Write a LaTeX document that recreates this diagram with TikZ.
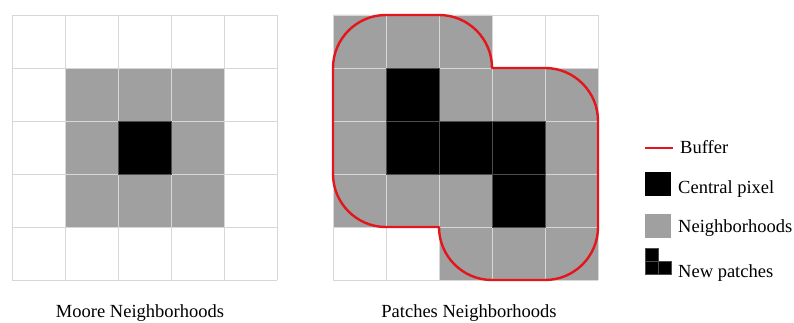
\documentclass[tikz,border=0pt]{standalone}
\usepackage{fontspec}
\setmainfont{Liberation Serif}
\usetikzlibrary{positioning}
\definecolor{nbgray}{RGB}{160,160,160}
\definecolor{gridgray}{RGB}{215,215,215}
\definecolor{buffred}{RGB}{228,22,28}

\begin{document}
\begin{tikzpicture}[x=1pt, y=1pt,
  cellgrid/.style={draw=gridgray, line width=0.8pt},
  pix/.style={fill=black, draw=black!70, line width=0.5pt},
  buffer/.style={draw=buffred, line width=2.4pt, line join=round},
  lbl/.style={font=\fontsize{18.5}{22}\selectfont, inner sep=0pt}]
  \useasboundingbox (0,0) rectangle (794,322);
  % Moore neighbourhood
  \begin{scope}[shift={(12,42)}, x=53pt, y=53pt]
    \fill[nbgray] (1,1) rectangle (4,4);
    \draw[cellgrid] (0,0) grid[step=1] (5,5);
    \filldraw[pix] (2,2) rectangle (3,3);
  \end{scope}
  % patch neighbourhood with buffer
  \begin{scope}[shift={(333,42)}, x=53pt, y=53pt]
    \fill[nbgray] (0,1) rectangle (5,4) (0,4) rectangle (3,5) (2,0) rectangle (5,1);
    \draw[cellgrid] (0,0) grid[step=1] (5,5);
    \foreach \c/\r in {1/3,1/2,2/2,3/2,3/1}
      \filldraw[pix] (\c,\r) rectangle ++(1,1);
    \draw[buffer] (1,5) -- (2,5) arc (90:0:1) -- (4,4) arc (90:0:1)
      -- (5,1) arc (0:-90:1) -- (3,0) arc (-90:-180:1)
      -- (1,1) arc (-90:-180:1) -- (0,4) arc (180:90:1) -- cycle;
  \end{scope}
  \node[lbl, anchor=base] (moore) at (140,5) {Moore Neighborhoods};
  \node[lbl, anchor=base] (patches) at (469,5) {Patches Neighborhoods};
  % legend
  \coordinate (bufA) at (645,174);
  \coordinate (bufB) at (673,174);
  \draw[draw=buffred, line width=2pt] (bufA) -- (bufB);
  \node[lbl, anchor=base west] (bufftxt) at (680,169) {Buffer};
  \fill (645,126) rectangle ++(26,24);
  \node[lbl, anchor=base west] (centtxt) at (678,129) {Central pixel};
  \fill[nbgray] (645,84) rectangle ++(26,24);
  \node[lbl, anchor=base west] (neightxt) at (678,90) {Neighborhoods};
  \filldraw[pix] (645,61) rectangle ++(13,13) (645,48) rectangle ++(13,13)
    (658,48) rectangle ++(13,13);
  \node[lbl, anchor=base west] (newtxt) at (678,45) {New patches};
\end{tikzpicture}
\end{document}
